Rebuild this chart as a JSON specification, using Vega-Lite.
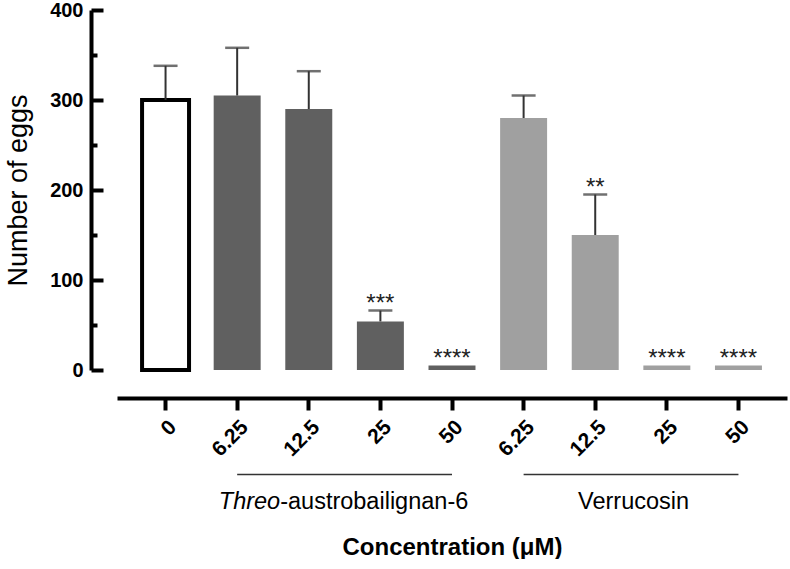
{
  "$schema": "https://vega.github.io/schema/vega-lite/v6.json",
  "width": 670,
  "height": 360,
  "autosize": {"type": "none"},
  "padding": {"left": 117, "top": 10, "right": 3, "bottom": 189},
  "config": {"font": "Liberation Sans", "view": {"stroke": null}},
  "datasets": {
    "bars": [
      {"key": "0_C", "group": "C", "value": 300, "err": 338, "stars": ""},
      {"key": "6.25_T", "group": "T", "value": 305, "err": 358, "stars": ""},
      {"key": "12.5_T", "group": "T", "value": 290, "err": 332, "stars": ""},
      {"key": "25_T", "group": "T", "value": 54, "err": 66, "stars": "***"},
      {"key": "50_T", "group": "T", "value": 5, "err": 5, "stars": "****"},
      {"key": "6.25_V", "group": "V", "value": 280, "err": 305, "stars": ""},
      {"key": "12.5_V", "group": "V", "value": 150, "err": 195, "stars": "**"},
      {"key": "25_V", "group": "V", "value": 5, "err": 5, "stars": "****"},
      {"key": "50_V", "group": "V", "value": 5, "err": 5, "stars": "****"}
    ],
    "groups": [
      {"name": "Threo-austrobailignan-6", "italic": "Threo", "plain": "-austrobailignan-6", "start": "6.25_T", "end": "50_T"},
      {"name": "Verrucosin", "italic": "", "plain": "Verrucosin", "start": "6.25_V", "end": "50_V"}
    ]
  },
  "layer": [
    {
      "data": {"name": "bars"},
      "transform": [{"filter": "datum.group != 'C'"}],
      "mark": {"type": "bar"},
      "encoding": {
        "x": {
          "field": "key", "type": "nominal",
          "scale": {"domain": ["0_C", "6.25_T", "12.5_T", "25_T", "50_T", "6.25_V", "12.5_V", "25_V", "50_V"], "paddingInner": 0.344, "paddingOuter": 0.35},
          "axis": {
            "offset": 28, "domainWidth": 4, "domainColor": "black", "tickWidth": 4, "tickColor": "black", "tickSize": 12,
            "labelAngle": -45, "labelFontWeight": "bold", "labelFontSize": 21, "labelColor": "black", "labelPadding": 6,
            "labelExpr": "split(datum.value, '_')[0]",
            "title": "Concentration (μM)", "titleFontSize": 24, "titleFontWeight": "bold", "titleColor": "black", "titlePadding": 76
          }
        },
        "y": {
          "field": "value", "type": "quantitative",
          "scale": {"domain": [0, 400], "nice": false},
          "axis": {
            "values": [0, 50, 100, 150, 200, 250, 300, 350, 400], "offset": 26, "grid": false,
            "domainWidth": 4, "domainColor": "black", "tickWidth": 4, "tickColor": "black",
            "tickSize": {"condition": {"test": "datum.value % 100 != 0", "value": -6}, "value": -12},
            "labelExpr": "datum.value % 100 == 0 ? datum.label : ''",
            "labelPadding": 20, "labelFontWeight": "bold", "labelFontSize": 20, "labelColor": "black",
            "title": "Number of eggs", "titleFontSize": 27, "titleFontWeight": "normal", "titleColor": "black", "titlePadding": 17
          }
        },
        "color": {"field": "group", "type": "nominal", "scale": {"domain": ["T", "V"], "range": ["#606060", "#a0a0a0"]}, "legend": null}
      }
    },
    {
      "data": {"name": "bars"},
      "transform": [{"filter": "datum.group == 'C'"}],
      "mark": {"type": "bar", "fill": "white", "stroke": "black", "strokeWidth": 4},
      "encoding": {
        "x": {"field": "key", "type": "nominal"},
        "y": {"field": "value", "type": "quantitative"}
      }
    },
    {
      "data": {"name": "bars"},
      "transform": [{"filter": "datum.err > datum.value"}],
      "mark": {"type": "rule", "color": "#333333", "strokeWidth": 2},
      "encoding": {
        "x": {"field": "key", "type": "nominal"},
        "y": {"field": "err", "type": "quantitative"},
        "y2": {"field": "value"}
      }
    },
    {
      "data": {"name": "bars"},
      "transform": [{"filter": "datum.err > datum.value"}],
      "mark": {"type": "tick", "color": "#333333", "size": 24, "thickness": 2.5},
      "encoding": {
        "x": {"field": "key", "type": "nominal"},
        "y": {"field": "err", "type": "quantitative"}
      }
    },
    {
      "data": {"name": "bars"},
      "transform": [{"filter": "datum.stars != ''"}],
      "mark": {"type": "text", "baseline": "alphabetic", "align": "center", "dy": 0, "fontSize": 24, "color": "#222222"},
      "encoding": {
        "x": {"field": "key", "type": "nominal"},
        "y": {"field": "err", "type": "quantitative"},
        "text": {"field": "stars"}
      }
    },
    {
      "data": {"name": "groups"},
      "mark": {"type": "rule", "color": "#333333", "strokeWidth": 1.5},
      "encoding": {
        "x": {"field": "start", "type": "nominal"},
        "x2": {"field": "end"},
        "y": {"datum": -116, "type": "quantitative"}
      }
    },
    {
      "data": {"name": "groups"},
      "transform": [{"filter": "datum.italic != ''"}],
      "mark": {"type": "text", "align": "right", "baseline": "alphabetic", "fontStyle": "italic", "fontSize": 23.5, "dx": 43, "color": "black"},
      "encoding": {
        "x": {"field": "start", "type": "nominal"},
        "y": {"datum": -154, "type": "quantitative"},
        "text": {"field": "italic"}
      }
    },
    {
      "data": {"name": "groups"},
      "transform": [{"filter": "datum.italic != ''"}],
      "mark": {"type": "text", "align": "left", "baseline": "alphabetic", "fontSize": 23.5, "dx": 43, "color": "black"},
      "encoding": {
        "x": {"field": "start", "type": "nominal"},
        "y": {"datum": -154, "type": "quantitative"},
        "text": {"field": "plain"}
      }
    },
    {
      "data": {"name": "groups"},
      "transform": [{"filter": "datum.italic == ''"}],
      "mark": {"type": "text", "align": "center", "baseline": "alphabetic", "fontSize": 23.5, "dx": 110, "color": "black"},
      "encoding": {
        "x": {"field": "start", "type": "nominal"},
        "y": {"datum": -154, "type": "quantitative"},
        "text": {"field": "plain"}
      }
    }
  ]
}
